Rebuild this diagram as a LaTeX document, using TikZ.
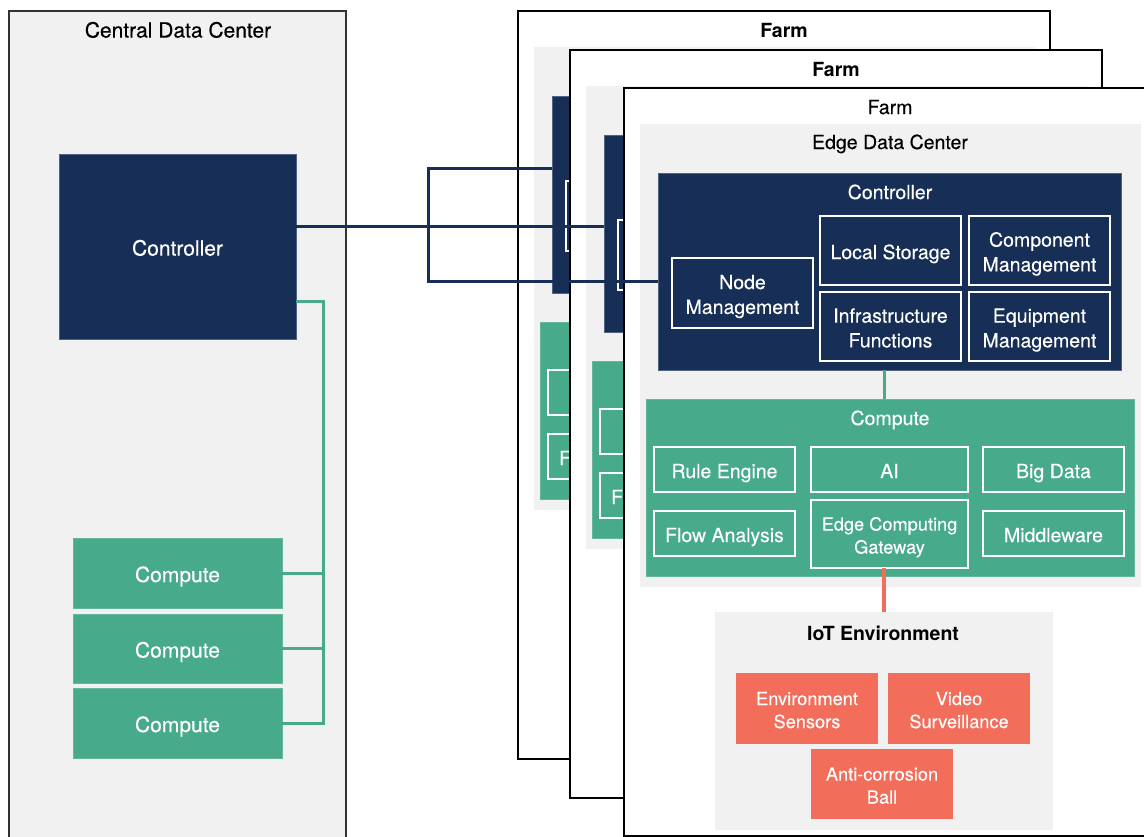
\documentclass[tikz,border=0pt]{standalone}
\usepackage{fontspec}
\setmainfont{TeX Gyre Heros}[UprightFeatures={FakeBold=0.25}]
\usetikzlibrary{calc}
\definecolor{navy}{HTML}{172F56}
\definecolor{cgreen}{HTML}{46AA8B}
\definecolor{salmon}{HTML}{F36D5B}
\definecolor{lgray}{HTML}{F1F1F1}
\newcommand\myrfont{\fontsize{19.5}{23}\selectfont}
\newcommand\mysfont{\fontsize{18.2}{23}\selectfont}
\newcommand\mylfont{\fontsize{21}{24}\selectfont}
\newcommand\mystrut{\rule[-0.25em]{0pt}{1.22em}}
\newif\ifshowall
\tikzset{
 every node/.style={inner sep=0pt, outer sep=0pt},
 farmbox/.style={draw=black, fill=white, line width=1.5pt},
 cdcbox/.style={draw=black!80, fill=lgray, line width=1.5pt},
 graybox/.style={fill=lgray, draw=none},
 navybox/.style={fill=navy, draw=navy!75!white, line width=0.8pt},
 greenbox/.style={fill=cgreen, draw=cgreen!85!white, line width=0.8pt},
 redbox/.style={fill=salmon, draw=none},
 subbox/.style={draw=white, line width=2pt},
 wtxt/.style={text=white, align=center, font=\myrfont},
 stxt/.style={text=white, align=center, font=\mysfont},
 ltxt/.style={text=white, align=center, font=\mylfont},
 lbl/.style={font=\myrfont},
 navyline/.style={draw=navy, line width=3pt},
 greenline/.style={draw=cgreen, line width=3pt},
 redline/.style={draw=salmon, line width=3.5pt},
}
% box with text always shown
\newcommand\bx[8]{\node[#2, minimum width={(#5-#3)*1pt}, minimum height={(#6-#4)*1pt}] (#1) at ({(#3+#5)/2},{(#4+#6)/2}) {};
 \node[#7] (#1t) at ([yshift=-1.5pt]#1.center) {\mystrut#8\mystrut};}
% box whose text is drawn only when the farm is in front
\newcommand\bxh[8]{\node[#2, minimum width={(#5-#3)*1pt}, minimum height={(#6-#4)*1pt}] (#1) at ({(#3+#5)/2},{(#4+#6)/2}) {};
 \ifshowall\node[#7] (#1t) at ([yshift=-1.5pt]#1.center) {\mystrut#8\mystrut};\fi}
\newcommand\farmunit[4]{%
\begin{scope}[shift={(#2,#3)}]
 \node[farmbox, minimum width=532pt, minimum height=748pt] (farm#1) at (266,374) {};
 \node[lbl,font=\myrfont#4] (ft#1) at (266,19) {\mystrut Farm\mystrut};
 \node[graybox, minimum width=501pt, minimum height=463pt] (edc#1) at (266.5,267.5) {};
 \ifshowall\node[lbl] (edct#1) at (266,54) {\mystrut Edge Data Center\mystrut};\fi
 \node[navybox, minimum width=463pt, minimum height=197pt] (ctl#1) at (265.5,183.5) {};
 \ifshowall\node[lbl,text=white] (ctlt#1) at (266,104) {\mystrut Controller\mystrut};\fi
 \bxh{nm#1}{subbox}{48}{170}{189}{240}{wtxt}{Node\\Management}
 \bxh{ls#1}{subbox}{196}{128}{337}{197}{wtxt}{Local Storage}
 \bxh{cm#1}{subbox}{345}{128}{486}{197}{wtxt}{Component\\Management}
 \bxh{inf#1}{subbox}{196}{204}{337}{273}{wtxt}{Infrastructure\\Functions}
 \bxh{em#1}{subbox}{345}{204}{486}{273}{wtxt}{Equipment\\Management}
 \node[greenbox, minimum width=488pt, minimum height=177pt] (cp#1) at (266,399.5) {};
 \ifshowall\node[lbl,text=white] (cpt#1) at (266,330) {\mystrut Compute\mystrut};\fi
 \bxh{re#1}{subbox}{30}{359}{171}{404}{wtxt}{Rule Engine}
 \bxh{ai#1}{subbox}{187}{359}{344}{404}{wtxt}{AI}
 \bxh{bd#1}{subbox}{359}{359}{500}{404}{wtxt}{Big Data}
 \bx{fa#1}{subbox}{30}{423}{171}{468}{wtxt}{Flow Analysis}
 \bxh{ecg#1}{subbox}{187}{412}{344}{480}{stxt}{Edge Computing\\Gateway}
 \bxh{mw#1}{subbox}{359}{423}{500}{468}{wtxt}{Middleware}
 \node[graybox, minimum width=338pt, minimum height=218pt] (iot#1) at (260,633) {};
 \ifshowall\node[lbl,font=\myrfont\bfseries] (iott#1) at (259,545) {\mystrut IoT Environment\mystrut};\fi
 \bxh{es#1}{redbox}{112}{585}{254}{656}{stxt}{Environment\\Sensors}
 \bxh{vs#1}{redbox}{264}{585}{406}{656}{stxt}{Video\\Surveillance}
 \bxh{ac#1}{redbox}{187}{661}{329}{731}{stxt}{Anti-corrosion\\Ball}
 \draw[greenline] (ctl#1.south -| iot#1.north) -- (cp#1.north -| iot#1.north);
 \draw[redline] (ecg#1.south -| iot#1.north) -- (iot#1.north);
\end{scope}}
\begin{document}
\begin{tikzpicture}[x=1pt,y=-1pt]
\useasboundingbox (0,0) rectangle (1144,836);
\clip (0,0) rectangle (1144,836);
\fill[white] (0,0) rectangle (1144,836);
% central data center
\node[cdcbox, minimum width=337pt, minimum height=889pt] (cdc) at (177.5,455.5) {};
\node[lbl,font=\mylfont] (cdct) at (178,30) {\mystrut Central Data Center\mystrut};
\bx{cctl}{navybox}{59}{154}{296}{339}{ltxt}{Controller}
\bx{c1}{greenbox}{73}{538}{282}{608}{ltxt}{Compute}
\bx{c2}{greenbox}{73}{614}{282}{683}{ltxt}{Compute}
\bx{c3}{greenbox}{73}{688}{282}{758}{ltxt}{Compute}
\coordinate (gj) at (323,301);
\draw[greenline] (cctl.east |- gj) -- (gj) -- (gj |- c3.east) -- (c3.east);
\draw[greenline] (c1.east) -- (c1.east -| gj);
\draw[greenline] (c2.east) -- (c2.east -| gj);
% farms (back to front)
\showallfalse
\farmunit{A}{518}{11}{\bfseries}
\farmunit{B}{570}{50}{\bfseries}
\showalltrue
\farmunit{C}{624}{88}{}
% links central controller -> farm controllers
\coordinate (nj) at (428,226);
\coordinate (nt) at (428,168);
\coordinate (nb) at (428,281);
\draw[navyline] (cctl.east |- nj) -- (ctlB.west |- nj);
\draw[navyline] (ctlA.west |- nt) -- (nt) -- (nb) -- (ctlC.west |- nb);
\end{tikzpicture}
\end{document}
